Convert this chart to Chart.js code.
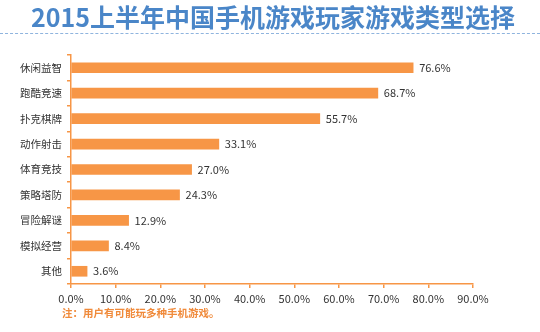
<!DOCTYPE html>
<html><head><meta charset="utf-8">
<script src="https://cdn.jsdelivr.net/npm/chart.js@4/dist/chart.umd.min.js"></script>
<style>
html,body{margin:0;padding:0;background:#fff;width:540px;height:332px;overflow:hidden;font-family:"Noto Sans CJK SC",sans-serif;}
#title{position:absolute;left:3px;top:1px;width:540px;text-align:center;font-size:25px;font-weight:bold;color:#4A86C8;line-height:30px;}
#dash{position:absolute;left:0;top:33px;width:540px;border-top:1px dashed #8FB4DE;}
#note{position:absolute;left:62px;top:305px;font-size:10.5px;font-weight:bold;color:#F08A3A;line-height:16px;}
#wrap{position:absolute;left:0;top:0;width:540px;height:332px;}
</style></head>
<body>
<div id="wrap"><canvas id="c" width="540" height="332"></canvas></div>
<div id="title">2015上半年中国手机游戏玩家游戏类型选择</div>
<div id="dash"></div>
<div id="note">注：用户有可能玩多种手机游戏。</div>
<script>
const categories = ["休闲益智","跑酷竞速","扑克棋牌","动作射击","体育竞技","策略塔防","冒险解谜","模拟经营","其他"];
const values = [76.6, 68.7, 55.7, 33.1, 27.0, 24.3, 12.9, 8.4, 3.6];
const xTicks = [0,10,20,30,40,50,60,70,80,90];

const orange = "#F79646";
const labelPlugin = {
  id: "barLabels",
  afterDatasetsDraw(chart){
    const ctx = chart.ctx;
    const meta = chart.getDatasetMeta(0);
    ctx.save();
    ctx.font = "11px 'Noto Sans CJK SC', sans-serif";
    ctx.fillStyle = "#333";
    ctx.textBaseline = "middle";
    ctx.textAlign = "left";
    meta.data.forEach((bar, i) => {
      ctx.fillText(values[i].toFixed(1) + "%", bar.x + 6, bar.y);
    });
    ctx.restore();
  }
};

new Chart(document.getElementById("c"), {
  type: "bar",
  data: {
    labels: categories,
    datasets: [{
      data: values,
      backgroundColor: orange,
      borderWidth: 0,
      barThickness: 10
    }]
  },
  options: {
    indexAxis: "y",
    responsive: false,
    animation: false,
    devicePixelRatio: 1,
    layout: { padding: { top: 55, right: 67, left: 0, bottom: 0 } },
    plugins: { legend: { display: false }, tooltip: { enabled: false } },
    scales: {
      x: {
        min: 0, max: 90,
        afterBuildTicks(s){ s.ticks = xTicks.map(v => ({ value: v })); },
        afterFit(s){ s.height = 48; },
        border: { display: true, color: orange, width: 1.5 },
        grid: { drawOnChartArea: false, drawTicks: true, tickLength: 4, color: orange, lineWidth: 1.5 },
        ticks: {
          color: "#333",
          padding: 4,
          font: { size: 11, family: "'Noto Sans CJK SC', sans-serif" },
          callback: v => Number(v).toFixed(1) + "%"
        }
      },
      y: {
        afterFit(s){ s.width = 71; },
        border: { display: true, color: orange, width: 1.5 },
        grid: { drawOnChartArea: false, drawTicks: true, tickLength: 4, color: orange, lineWidth: 1.5, offset: true },
        ticks: {
          color: "#333",
          padding: 5,
          font: { size: 10.5, family: "'Noto Sans CJK SC', sans-serif" }
        }
      }
    }
  },
  plugins: [labelPlugin]
});
</script>
</body></html>
